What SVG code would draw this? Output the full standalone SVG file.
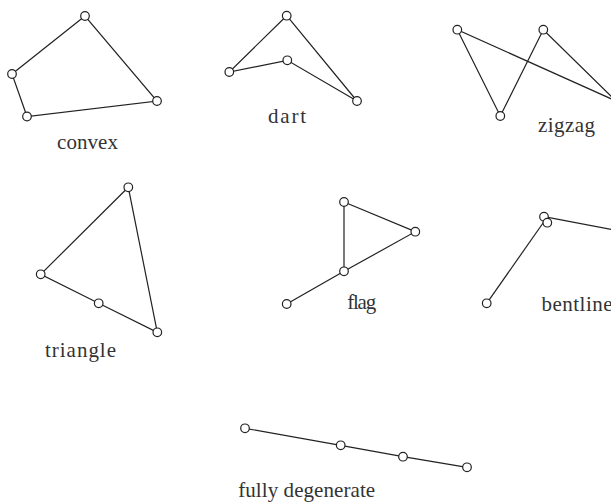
<svg xmlns="http://www.w3.org/2000/svg" width="611" height="503" viewBox="0 0 611 503">
<style>
.e{stroke:#222;stroke-width:1.2;fill:none}
.v{fill:#fff;stroke:#222;stroke-width:1.2}
.t{font-family:"Liberation Serif","DejaVu Serif",serif;font-size:21px;fill:#333;text-anchor:middle}
</style>
<rect width="611" height="503" fill="#fff"/>
<g id="connectors">
<polygon class="e" points="85,16 12,74 27,116.5 157,101"/>
<polygon class="e" points="286.7,15.7 229.3,72 287.3,60.3 357,101"/>
<polygon class="e" points="457.3,29.7 500.3,116 543.3,29.7 616,101"/>
<polygon class="e" points="128.3,187.3 40.7,274.3 98.7,303.3 157.3,332.3"/>
<polyline class="e" points="344,202 415.3,231.7 344,271.3 344,202"/>
<line class="e" x1="344" y1="271.3" x2="286.7" y2="304"/>
<polyline class="e" points="486.7,303.3 545.5,219.5"/>
<polyline class="e" points="544,216.7 625,232"/>
<polyline class="e" points="245,428.3 340.7,445.3 403,456.7 467,467.3"/>
</g>
<g id="convex">
<circle class="v" cx="85" cy="16" r="4.3"/><circle class="v" cx="12" cy="74" r="4.3"/><circle class="v" cx="27" cy="116.5" r="4.3"/><circle class="v" cx="157" cy="101" r="4.3"/>
<text class="t" x="87.5" y="149" textLength="61">convex</text>
</g>
<g id="dart">
<circle class="v" cx="286.7" cy="15.7" r="4.3"/><circle class="v" cx="229.3" cy="72" r="4.3"/><circle class="v" cx="287.3" cy="60.3" r="4.3"/><circle class="v" cx="357" cy="101" r="4.3"/>
<text class="t" x="287" y="123" textLength="38">dart</text>
</g>
<g id="zigzag">
<circle class="v" cx="457.3" cy="29.7" r="4.3"/><circle class="v" cx="500.3" cy="116" r="4.3"/><circle class="v" cx="543.3" cy="29.7" r="4.3"/><circle class="v" cx="616" cy="101" r="4.3"/>
<text class="t" x="566.5" y="132" textLength="57">zigzag</text>
</g>
<g id="triangle">
<circle class="v" cx="128.3" cy="187.3" r="4.3"/><circle class="v" cx="40.7" cy="274.3" r="4.3"/><circle class="v" cx="98.7" cy="303.3" r="4.3"/><circle class="v" cx="157.3" cy="332.3" r="4.3"/>
<text class="t" x="80.5" y="357" textLength="71">triangle</text>
</g>
<g id="flag">
<circle class="v" cx="344" cy="202" r="4.3"/><circle class="v" cx="415.3" cy="231.7" r="4.3"/><circle class="v" cx="344" cy="271.3" r="4.3"/><circle class="v" cx="286.7" cy="304" r="4.3"/>
<text class="t" x="361.7" y="309" textLength="29">flag</text>
</g>
<g id="bentline">
<circle class="v" cx="544" cy="216.7" r="4.3"/><circle class="v" cx="547.3" cy="222.7" r="4.3"/><circle class="v" cx="486.7" cy="303.3" r="4.3"/>
<text class="t" x="577" y="311" textLength="71">bentline</text>
</g>
<g id="fully-degenerate">
<circle class="v" cx="245" cy="428.3" r="4.3"/><circle class="v" cx="340.7" cy="445.3" r="4.3"/><circle class="v" cx="403" cy="456.7" r="4.3"/><circle class="v" cx="467" cy="467.3" r="4.3"/>
<text class="t" x="306.7" y="497" textLength="137">fully degenerate</text>
</g>
</svg>
